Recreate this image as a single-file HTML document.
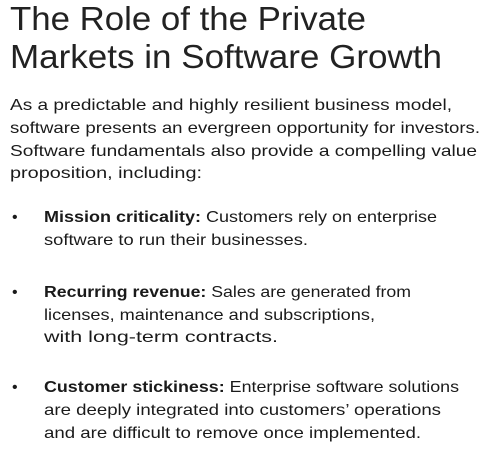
<!DOCTYPE html>
<html><head><meta charset="utf-8"><style>
html,body{margin:0;padding:0;background:#fff;}
svg{display:block;}
text{font-family:"Liberation Sans",sans-serif;fill:#1a1a1a;}
.t{font-size:33px;font-weight:300;fill:#222;}
.b{font-size:16px;}
</style></head><body>
<svg width="485" height="452" xmlns="http://www.w3.org/2000/svg">
<text class="t" x="10" y="30" textLength="356" lengthAdjust="spacingAndGlyphs">The Role of the Private</text>
<text class="t" x="10" y="68" textLength="432" lengthAdjust="spacingAndGlyphs">Markets in Software Growth</text>

<text class="b" x="10" y="110" textLength="442" lengthAdjust="spacingAndGlyphs">As a predictable and highly resilient business model,</text>
<text class="b" x="10" y="133" textLength="470" lengthAdjust="spacingAndGlyphs">software presents an evergreen opportunity for investors.</text>
<text class="b" x="10" y="156" textLength="467" lengthAdjust="spacingAndGlyphs">Software fundamentals also provide a compelling value</text>
<text class="b" x="10" y="178" textLength="192" lengthAdjust="spacingAndGlyphs">proposition, including:</text>

<text class="b" x="12" y="222">•</text>
<text class="b" x="44" y="222" textLength="393" lengthAdjust="spacingAndGlyphs"><tspan font-weight="bold">Mission criticality:</tspan> Customers rely on enterprise</text>
<text class="b" x="44" y="245" textLength="264" lengthAdjust="spacingAndGlyphs">software to run their businesses.</text>

<text class="b" x="12" y="297">•</text>
<text class="b" x="44" y="297" textLength="367" lengthAdjust="spacingAndGlyphs"><tspan font-weight="bold">Recurring revenue:</tspan> Sales are generated from</text>
<text class="b" x="44" y="320" textLength="331" lengthAdjust="spacingAndGlyphs">licenses, maintenance and subscriptions,</text>
<text class="b" x="44" y="342" textLength="234" lengthAdjust="spacingAndGlyphs">with long-term contracts.</text>

<text class="b" x="12" y="392">•</text>
<text class="b" x="44" y="392" textLength="415" lengthAdjust="spacingAndGlyphs"><tspan font-weight="bold">Customer stickiness:</tspan> Enterprise software solutions</text>
<text class="b" x="44" y="415" textLength="397" lengthAdjust="spacingAndGlyphs">are deeply integrated into customers’ operations</text>
<text class="b" x="44" y="438" textLength="377" lengthAdjust="spacingAndGlyphs">and are difficult to remove once implemented.</text>
</svg>
</body></html>
